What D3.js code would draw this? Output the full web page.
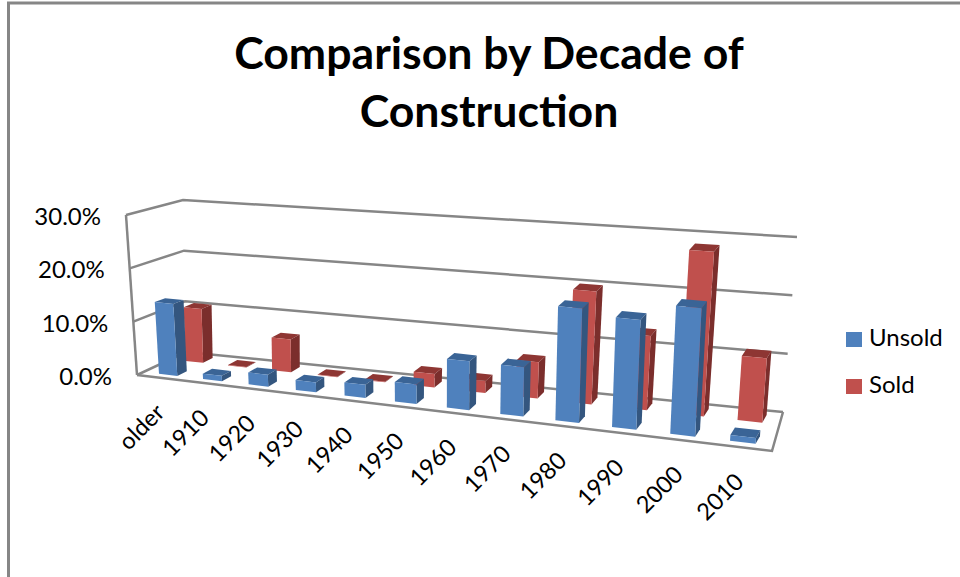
<!DOCTYPE html>
<html><head><meta charset="utf-8">
<script src="https://cdn.jsdelivr.net/npm/d3@7"></script>
<style>html,body{margin:0;padding:0;background:#fff}svg{display:block}text{font-family:Lato,"Open Sans",sans-serif;fill:#000}</style>
</head><body><svg id="c" width="960" height="577"></svg>
<script>
const categories = ["older","1910","1920","1930","1940","1950","1960","1970","1980","1990","2000","2010"];
const unsold = [13.5,1.0,2.2,1.8,2.4,3.5,8.7,8.7,20,19,22,1.0];
const sold = [10.4,0.1,6.2,0.1,0.1,2.5,2.2,6.5,20,13,28.5,11];
const seriesNames = ["Unsold","Sold"];
const tickValues = [0,10,20,30];
const titleLines = ["Comparison by Decade of","Construction"];

const svg = d3.select("#c");
const GRID = "#868686";
const colors = {Unsold:{front:"#4F81BD",side:"#34567F",top:"#3A6496"},Sold:{front:"#C0504D",side:"#7B2E2C",top:"#8E3633"}};

// projected box: floor corners and the height vectors (per full axis) at those corners
const floor = {FL:[137,375],FR:[772,451],BL:[186,352],BR:[783,412]};
const rise  = {FL:[-11,-160],FR:[11,-178],BL:[-3,-152],BR:[14,-175]};
const v = d3.scaleLinear().domain([0,30]).range([0,1]);
const warp = t => 0.82*t + 0.18*t*t + 0.005*(1-t);
const cat = d3.scaleLinear().domain([0,categories.length]).range([0,1]);
const lerp = (a,b,t)=>[a[0]+(b[0]-a[0])*t,a[1]+(b[1]-a[1])*t];
const bil = (c,u,d)=>lerp(lerp(c.FL,c.FR,u),lerp(c.BL,c.BR,u),d);
function P(u,d,val){
  const b=bil(floor,u,d), r=bil(rise,u,d), k=v(val);
  return [b[0]+r[0]*k,b[1]+r[1]*k];
}
const line = d3.line();

// outer frame
svg.append("path").attr("d","M8.5,577V3H960").attr("fill","none").attr("stroke",GRID).attr("stroke-width",3);

// title
svg.selectAll("text.title").data(titleLines).join("text").attr("class","title")
  .attr("x",489).attr("y",(d,i)=>69+i*58).attr("text-anchor","middle")
  .attr("font-size",44.6).attr("font-weight",700).text(d=>d);

// walls and floor
const wall = svg.append("g").attr("fill","none").attr("stroke",GRID).attr("stroke-width",2.5);
tickValues.forEach(t=>{
  wall.append("path").attr("d",line([P(0,0,t),P(0,1,t),P(1,1,t)]));
});
wall.append("path").attr("d",line([P(0,0,0),P(0,0,30)]));
wall.append("path").attr("d",line([P(0,0,0),P(1,0,0),P(1,1,0)]));

// y tick labels
svg.selectAll("text.yt").data(tickValues).join("text").attr("class","yt")
  .attr("x",d=>P(0,0,d)[0]-25).attr("y",d=>P(0,0,d)[1]+10).attr("text-anchor","end")
  .attr("font-size",24).text(d=>d3.format(".1f")(d)+"%");

// bars
const barW=0.42, off=(1-barW)/2;
const depths={Unsold:[0.13,0.33],Sold:[0.68,0.88]};
function bar(g,i,val,name){
  const u0=warp(cat(i+off)),u1=warp(cat(i+off+barW));
  const [d0,d1]=depths[name],c=colors[name];
  // the far edge of a box leans right a little more toward the right of the floor
  const far=(u,val)=>{const p=P(u,d1,val);return [p[0]+u*2,p[1]];};
  g.append("path").attr("fill",c.top).attr("d",line([P(u0,d0,val),P(u1,d0,val),far(u1,val),far(u0,val)])+"Z");
  g.append("path").attr("fill",c.side).attr("d",line([P(u1,d0,0),far(u1,0),far(u1,val),P(u1,d0,val)])+"Z");
  g.append("path").attr("fill",c.front).attr("d",line([P(u0,d0,0),P(u1,d0,0),P(u1,d0,val),P(u0,d0,val)])+"Z");
}
const bars=svg.append("g");
[["Sold",sold],["Unsold",unsold]].forEach(([name,vals])=>{
  vals.forEach((val,i)=>bar(bars,i,val,name));
});

// category labels
svg.selectAll("text.xt").data(categories).join("text").attr("class","xt")
  .attr("text-anchor","end").attr("font-size",23.5)
  .attr("transform",(d,i)=>{
    const p=P(warp(cat(i+0.5)),0,0);
    return `translate(${p[0]+4},${p[1]+36}) rotate(-45)`;
  }).text(d=>d);

// legend
const leg=svg.selectAll("g.leg").data(seriesNames).join("g").attr("class","leg")
  .attr("transform",(d,i)=>`translate(846,${332+i*47})`);
leg.append("rect").attr("width",16).attr("height",15).attr("fill",d=>colors[d].front);
leg.append("text").attr("x",23).attr("y",14).attr("font-size",24).text(d=>d);
</script></body></html>
